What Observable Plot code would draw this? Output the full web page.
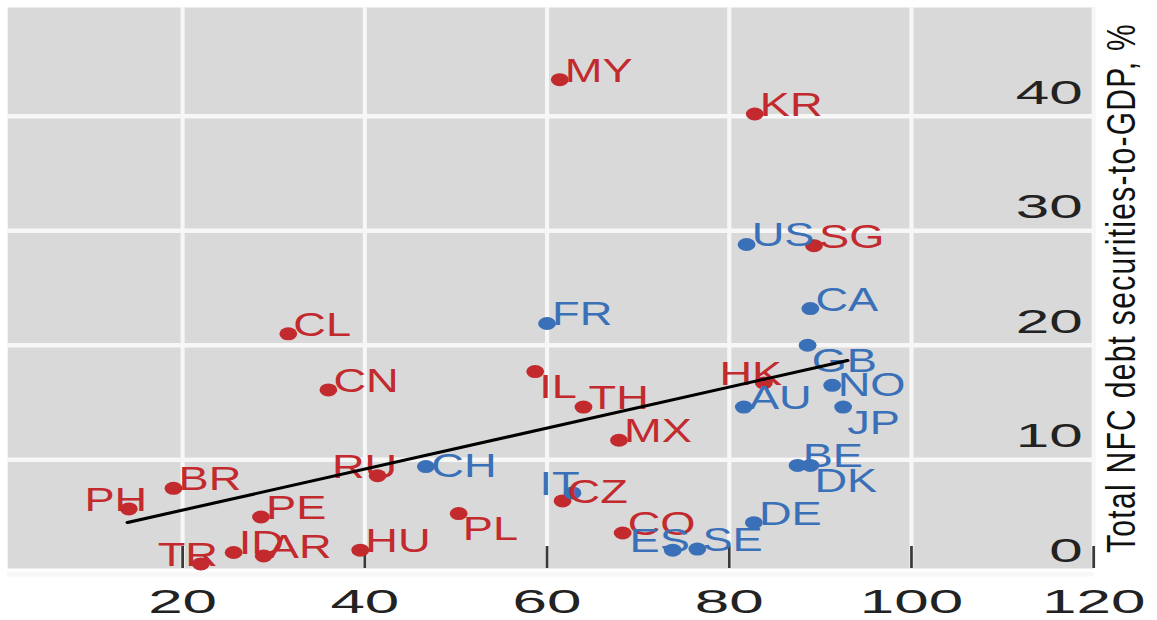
<!DOCTYPE html>
<html>
<head>
<meta charset="utf-8">
<script src="https://cdn.jsdelivr.net/npm/d3@7"></script>
<script src="https://cdn.jsdelivr.net/npm/@observablehq/plot@0.6"></script>
<style>
html, body { margin: 0; padding: 0; background: #ffffff; }
#chart svg { display: block; }
</style>
</head>
<body>
<div id="chart"></div>
<script>
// ---- data ----
const countries = ["MY","KR","US","SG","FR","CA","CL","CN","GB","NO","JP","AU","HK","BE","DK","DE","SE","ES","CO","CZ","IT","CH","PL","HU","RU","MX","TH","IL","PH","BR","PE","ID","AR","TR"];
const xValues = [61.4, 82.8, 81.9, 89.3, 60.0, 88.9, 31.6, 36.0, 88.6, 91.3, 92.5, 81.6, 83.8, 87.5, 88.9, 82.7, 76.5, 73.8, 68.3, 61.7, 62.8, 46.7, 50.3, 39.5, 41.4, 67.9, 64.0, 58.7, 14.1, 19.0, 28.6, 25.6, 28.9, 22.0];
const yValues = [43.2, 40.2, 28.8, 28.7, 21.9, 23.2, 21.0, 16.1, 20.0, 16.5, 14.6, 14.6, 16.7, 9.5, 9.5, 4.5, 2.2, 2.1, 3.6, 6.4, 7.1, 9.4, 5.3, 2.1, 8.6, 11.7, 14.6, 17.7, 5.7, 7.5, 5.0, 1.9, 1.6, 0.9];
const groups = ["EME","EME","AE","EME","AE","AE","EME","EME","AE","AE","AE","AE","EME","AE","AE","AE","AE","AE","EME","EME","AE","AE","EME","EME","EME","EME","EME","EME","EME","EME","EME","EME","EME","EME"];
const fitX = [13.96, 92.98];
const fitY = [4.52, 18.67];
const xTicks = [20, 40, 60, 80, 100, 120];
const yTicks = [0, 10, 20, 30, 40];
const yTitle = "Total NFC debt securities-to-GDP, %";

// ---- label placement groups (layout) ----
const labelRight = ["NO", "CH"];
const labelBelow = ["GB", "JP", "DK", "PL", "IL"];
const labelAbove = ["HK", "RU", "PH", "TR", "ES", "IT"];

const rows = countries.map((c, i) => ({c, x: xValues[i], y: yValues[i], g: groups[i]}));
const fit = fitX.map((x, i) => ({x, y: fitY[i]}));

const OUT_W = 1157, H = 620, S = 1.37;
const W = OUT_W / S;
const red = "#c22a2e", blue = "#3a70b8";
const labelFont = 33;
const frameH = H - 7 - 52;

const isDefault = d => !labelRight.includes(d.c) && !labelBelow.includes(d.c) && !labelAbove.includes(d.c);

const svg = Plot.plot({
  width: W,
  height: H,
  marginLeft: 7 / S,
  marginRight: (OUT_W - 1093) / S,
  marginTop: 7,
  marginBottom: 52,
  style: "font-family: 'Liberation Sans', Arial, sans-serif; background: #ffffff; overflow: visible;",
  x: {domain: [0.8, 120]},
  y: {domain: [0.5, 49.5]},
  color: {domain: ["EME", "AE"], range: [red, blue]},
  marks: [
    Plot.frame({fill: "#d9d9d9"}),
    Plot.gridX({ticks: xTicks, stroke: "#f7f7f7", strokeOpacity: 1, strokeWidth: 3}),
    Plot.gridY({ticks: yTicks, stroke: "#f7f7f7", strokeOpacity: 1, strokeWidth: 4.5}),
    Plot.ruleX(xTicks, {x: d => d, insetTop: frameH - 22, stroke: "#3a3a3a", strokeWidth: 2}),
    Plot.dot(rows, {x: "x", y: "y", fill: "g", r: 6.5}),
    Plot.text(rows, {filter: isDefault, x: "x", y: "y", text: "c", fill: "g", fontSize: labelFont, textAnchor: "start", lineAnchor: "bottom", dx: 3.7, dy: 2}),
    Plot.text(rows, {filter: d => labelRight.includes(d.c), x: "x", y: "y", text: "c", fill: "g", fontSize: labelFont, textAnchor: "start", lineAnchor: "middle", dx: 4, dy: 0}),
    Plot.text(rows, {filter: d => labelBelow.includes(d.c), x: "x", y: "y", text: "c", fill: "g", fontSize: labelFont, textAnchor: "start", lineAnchor: "top", dx: 3, dy: 3}),
    Plot.text(rows, {filter: d => labelAbove.includes(d.c), x: "x", y: "y", text: "c", fill: "g", fontSize: labelFont, textAnchor: "middle", lineAnchor: "bottom", dx: -9.5, dy: 2}),
    Plot.line(fit, {x: "x", y: "y", stroke: "#000000", strokeWidth: 3}),
    Plot.axisX({ticks: xTicks, anchor: "bottom", tickSize: 0, tickPadding: 20, fontSize: 34, color: "#222222", label: null}),
    Plot.axisY({ticks: yTicks, anchor: "right", tickSize: 0, tickPadding: -8, textAnchor: "end", dy: -23, fontSize: 33, color: "#222222", label: null}),
    Plot.text([yTitle], {text: d => d, frameAnchor: "right", rotate: -90, textAnchor: "middle", lineAnchor: "bottom", dx: 30.5, fontSize: 30, fill: "#111111"})
  ]
});

// stretch horizontally like the reference picture
svg.setAttribute("width", OUT_W);
svg.setAttribute("height", H);
svg.setAttribute("preserveAspectRatio", "none");
svg.style.width = OUT_W + "px";
svg.style.height = H + "px";
svg.style.maxWidth = "none";

// widen axis numerals
svg.querySelectorAll('g[aria-label$="tick label"] text').forEach(t => {
  const tr = t.getAttribute("transform") || "";
  t.setAttribute("transform", tr + " scale(1.33,1)");
});
svg.querySelectorAll("text").forEach(t => {
  if (t.textContent === yTitle) t.style.letterSpacing = "1.3px";
});

document.getElementById("chart").appendChild(svg);
</script>
</body>
</html>
